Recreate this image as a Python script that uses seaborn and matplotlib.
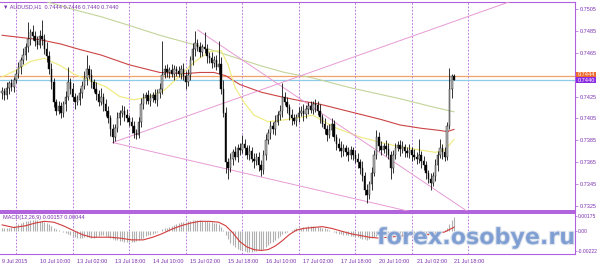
import numpy as np
import matplotlib
matplotlib.use("Agg")
import matplotlib.pyplot as plt
import matplotlib.patheffects as pe
import matplotlib.transforms as mtransforms
import seaborn as sns

# ---------------- data ----------------
first_open = 0.7428
closes = [
 0.7430,0.7426,0.7433,0.7437,0.7434,0.7440,0.7446,0.7452,0.7458,0.7463,
 0.7470,0.7478,0.7484,0.7480,0.7476,0.7472,0.7480,0.7478,0.7468,0.7462,
 0.7450,0.7438,0.7420,0.7412,0.7416,0.7410,0.7418,0.7425,0.7438,0.7432,
 0.7425,0.7420,0.7422,0.7428,0.7435,0.7442,0.7450,0.7445,0.7438,0.7432,
 0.7427,0.7420,0.7425,0.7418,0.7412,0.7405,0.7395,0.7388,0.7396,0.7405,
 0.7410,0.7412,0.7408,0.7405,0.7402,0.7398,0.7392,0.7390,0.7402,0.7418,
 0.7424,0.7426,0.7421,0.7424,0.7426,0.7422,0.7428,0.7432,0.7445,0.7450,
 0.7447,0.7449,0.7446,0.7450,0.7448,0.7446,0.7450,0.7444,0.7438,0.7445,
 0.7458,0.7468,0.7474,0.7470,0.7466,0.7470,0.7468,0.7462,0.7460,0.7456,
 0.7458,0.7452,0.7455,0.7432,0.7410,0.7365,0.7360,0.7368,0.7374,0.7370,
 0.7378,0.7376,0.7382,0.7378,0.7372,0.7375,0.7368,0.7366,0.7370,0.7362,
 0.7358,0.7372,0.7385,0.7392,0.7398,0.7395,0.7402,0.7408,0.7412,0.7425,
 0.7420,0.7415,0.7408,0.7405,0.7403,0.7406,0.7410,0.7412,0.7409,0.7414,
 0.7416,0.7413,0.7418,0.7417,0.7412,0.7406,0.7400,0.7395,0.7390,0.7394,
 0.7400,0.7388,0.7382,0.7378,0.7375,0.7378,0.7374,0.7372,0.7376,0.7372,
 0.7368,0.7365,0.7360,0.7352,0.7340,0.7335,0.7345,0.7355,0.7372,0.7388,
 0.7380,0.7376,0.7380,0.7377,0.7372,0.7360,0.7372,0.7378,0.7381,0.7377,
 0.7379,0.7375,0.7373,0.7376,0.7372,0.7370,0.7368,0.7372,0.7366,0.7362,
 0.7355,0.7350,0.7346,0.7352,0.7362,0.7372,0.7378,0.7374,0.7370,0.7398,
 0.7432,0.7444,0.7440]
# wick lengths in pips (0.0001)
up_wick = [
 4,3,5,2,4,3,4,5,3,6, 4,15,3,6,5,4,6,15,4,7, 5,6,4,3,5,4,3,5,14,4,
 5,3,4,5,4,6,13,4,5,3, 6,4,8,3,5,4,3,5,4,6, 3,5,4,6,3,4,5,3,4,6,
 4,3,5,4,3,6,4,5,31,4, 5,3,6,4,3,5,4,6,4,5, 4,6,11,4,5,3,14,5,4,6,
 4,5,21,6,8,5,4,5,3,6, 4,5,8,4,3,6,4,5,3,4, 5,4,6,3,5,4,6,4,5,12,
 4,5,3,6,4,3,5,4,6,3, 4,5,3,5,4,6,3,5,4,6, 5,4,3,5,6,4,3,5,4,3,
 4,5,3,6,4,5,3,6,4,6, 5,4,3,5,6,3,4,5,3,4, 5,3,4,6,3,5,4,14,3,5,
 4,3,5,4,6,3,8,4,5,4, 19,2,2]
low_wick = [
 5,4,3,6,4,5,3,4,6,3, 5,4,6,3,5,4,3,6,4,5, 4,6,5,4,3,5,4,6,3,5,
 4,6,3,5,4,3,6,4,5,3, 5,4,3,6,5,4,6,5,4,3, 6,4,5,3,4,6,5,4,3,5,
 4,6,3,5,4,3,6,4,5,3, 4,5,3,6,4,3,5,4,6,3, 5,4,6,3,5,4,3,6,4,5,
 4,3,6,5,4,10,10,4,6,3, 5,4,3,6,4,5,3,6,4,5, 6,4,5,3,6,4,5,3,4,6,
 3,5,4,6,3,5,4,3,6,4, 5,3,4,6,4,5,3,4,6,3, 5,4,6,3,5,4,3,6,4,5,
 4,5,6,4,5,7,4,5,3,4, 5,4,3,6,4,10,5,4,3,6, 4,5,3,4,6,3,5,4,6,4,
 5,4,6,3,4,5,3,6,4,3, 3,8,0]

# moving averages (bar index, price)
green_bars = [16, 20, 33, 42, 54, 67, 84, 97, 110, 120, 132, 148, 169, 182, 192]
green_vals = [0.7514, 0.7511, 0.7503, 0.7498, 0.7490, 0.7481, 0.7471, 0.7462, 0.7453,
              0.7447, 0.7442, 0.7433, 0.7423, 0.7416, 0.7411]
red_bars = [0, 8, 16, 25, 33, 42, 54, 67, 78, 84, 90, 95, 101, 110, 118, 127, 135, 148,
            161, 169, 178, 186, 189, 192]
red_vals = [0.7481, 0.7479, 0.7477, 0.7473, 0.7468, 0.7463, 0.7454, 0.7447, 0.7446, 0.7447,
            0.7447, 0.7444, 0.7436, 0.7429, 0.7425, 0.7421, 0.7418, 0.7411, 0.7404, 0.7399,
            0.7396, 0.7394, 0.7393, 0.7395]
yellow_bars = [0, 6, 12, 18, 25, 31, 37, 44, 50, 56, 63, 69, 76, 82, 88, 93, 96, 99, 103,
               107, 113, 121, 127, 132, 141, 152, 161, 169, 178, 184, 188, 192]
yellow_vals = [0.7443, 0.7449, 0.7457, 0.7460, 0.7453, 0.7445, 0.7440, 0.7434, 0.7425,
               0.7422, 0.7425, 0.7431, 0.7445, 0.7457, 0.7466, 0.7467, 0.7454, 0.7433,
               0.7419, 0.7408, 0.7402, 0.7404, 0.7406, 0.7408, 0.7397, 0.7388, 0.7383,
               0.7379, 0.7376, 0.7374, 0.7376, 0.7386]

# trend lines (bar, price) anchors
trend_up = ([47, 216], [0.7383, 0.7512])
trend_low = ([47, 174], [0.7383, 0.73195])
trend_high = ([83, 198], [0.7486, 0.73195])

level_orange = 0.7444
level_bid = 0.7440

# MACD (main histogram, x 1e-4) and signal line points
macd_main = [
 3,3,4,4,5,6,7,8,9,10, 11,11,12,12,12,12,11,11,10,9, 8,6,4,2,1,0,-1,-2,-3,-5,
 -6,-7,-8,-8,-8,-7,-7,-7,-8,-8, -7,-6,-5,-5,-6,-7,-8,-9,-10,-10,
 -11,-11,-12,-12,-12,-12,-12,-11,-10,-9, -8,-6,-5,-4,-3,-2,-1,0,2,3,
 4,5,6,7,8,9,10,10,10,11, 11,12,12,12,12,11,11,11,10,10,
 9,9,8,5,1,-4,-9,-13,-16,-18, -20,-21,-22,-23,-24,-24,-24,-23,-23,-22,
 -21,-20,-18,-16,-14,-12,-10,-8,-6,-3, -2,-1,0,1,2,3,4,4,5,5,
 6,6,6,5,5,5,4,3,2,1, 0,-1,-2,-3,-3,-4,-5,-5,-6,-6,
 -7,-7,-8,-9,-9,-10,-9,-8,-7,-6, -6,-5,-5,-5,-5,-6,-5,-5,-4,-4,
 -4,-4,-3,-3,-3,-4,-4,-3,-3,-4, -4,-5,-5,-4,-3,-2,-1,0,1,3,
 8,13,15.7]
signal_bars = [0, 5, 10, 14, 18, 22, 26, 30, 34, 38, 42, 46, 50, 55, 60, 64, 68, 72, 76,
               80, 84, 88, 92, 95, 98, 101, 104, 107, 110, 113, 116, 119, 122, 125, 128,
               132, 136, 140, 144, 148, 152, 156, 160, 164, 168, 172, 176, 180, 184, 188, 192]
signal_vals = [7, 4, 6, 9, 11, 10, 6, 1, -4, -7, -7, -7, -8, -10, -10, -7, -3, 2, 6,
               9, 11, 11, 10, 6, -2, -12, -18, -21, -22, -21, -17, -11, -4, 1, 3,
               4, 5, 3, 0, -3, -5, -7, -8, -7, -6, -5, -4, -4, -3, -1, 4.4]

day_sep_bars = [6, 30, 54, 78, 102, 126, 150, 174, 198]
xtick_bars = [0, 16, 32, 48, 64, 80, 96, 112, 128, 144, 160, 176, 192]
xtick_labels = ["9 Jul 2015", "10 Jul 10:00", "13 Jul 02:00", "13 Jul 18:00", "14 Jul 10:00",
                "15 Jul 02:00", "15 Jul 18:00", "16 Jul 10:00", "17 Jul 02:00", "17 Jul 18:00",
                "20 Jul 10:00", "21 Jul 02:00", "21 Jul 18:00"]
price_ticks = [0.7505, 0.7485, 0.7465, 0.7425, 0.7405, 0.7385, 0.7365, 0.7345, 0.7325]
macd_ticks = [0.00175, 0.0, -0.00222]
macd_tick_labels = ["0.00175", "0.00", "-0.00222"]

# ---------------- style ----------------
sns.set_style("white")
plt.rcParams['font.family'] = ['Liberation Sans', 'DejaVu Sans']
PURPLE = '#b060dc'
TXT = '#7b2fae'
FS = 4.0

W, H = 598, 265
fig = plt.figure(figsize=(W / 100, H / 100), dpi=100)
fig.patch.set_facecolor('white')

def rect(l, t, r, b):
    return [l / W, 1 - b / H, (r - l) / W, (b - t) / H]

ax = fig.add_axes(rect(0, 2, 575, 211))
axm = fig.add_axes(rect(0, 212.5, 575, 254), sharex=ax)

bars = np.arange(len(closes))
c = np.array(closes)
o = np.r_[first_open, c[:-1]]
hi = np.maximum(o, c) + np.array(up_wick) * 1e-4
lo = np.minimum(o, c) - np.array(low_wick) * 1e-4

# day separators
for a in (ax, axm):
    for b in day_sep_bars:
        a.axvline(b, color=PURPLE, lw=0.6, ls=(0, (2, 2)), zorder=1)

# horizontal levels
ax.axhline(level_orange, color='#f2a36b', lw=0.9, zorder=2)
ax.axhline(level_bid, color='#8ecbe8', lw=0.9, zorder=2)

# MAs
sns.lineplot(x=green_bars, y=green_vals, ax=ax, color='#c3d49a', lw=0.8, zorder=3)
sns.lineplot(x=red_bars, y=red_vals, ax=ax, color='#cc4444', lw=0.8, zorder=3)
sns.lineplot(x=yellow_bars, y=yellow_vals, ax=ax, color='#f1ec86', lw=0.9, zorder=3)

# trend lines
for xs, ys in (trend_up, trend_low, trend_high):
    ax.plot(xs, ys, color='#e79ad4', lw=0.7, zorder=3)

# candles
ax.vlines(bars, lo, hi, color='#111111', lw=0.6, zorder=4)
body_col = np.where(c >= o, '#b8b8b8', '#000000')
ax.bar(bars, np.maximum(np.abs(c - o), 0.00005), bottom=np.minimum(o, c), width=0.62,
       color=body_col, edgecolor='#111111', linewidth=0.3, zorder=5)

ax.set_xlim(-0.85, 243.3)
ax.set_ylim(0.73204, 0.75114)

# right axis
ax.yaxis.tick_right()
ax.set_yticks(price_ticks)
ax.set_yticklabels([f"{v:.4f}" for v in price_ticks])
ax.tick_params(axis='y', length=2, width=0.5, color=PURPLE, labelsize=FS, labelcolor=TXT, pad=1.2)
ax.tick_params(axis='x', length=0, labelbottom=False)
ax.set_xlabel('')
ax.set_ylabel('')

for s in ['top', 'right']:
    ax.spines[s].set_color(PURPLE)
    ax.spines[s].set_linewidth(0.8)
ax.spines['bottom'].set_color(PURPLE)
ax.spines['bottom'].set_linewidth(1.4)
ax.spines['left'].set_visible(False)

ax.text(0.006, 0.988, "\u25BC AUDUSD,H1  0.7444 0.7446 0.7440 0.7440", transform=ax.transAxes,
        va='top', ha='left', fontsize=FS, color=TXT, zorder=10)

# price labels at right
blend = mtransforms.blended_transform_factory(ax.transAxes, ax.transData)
ax.text(1.004, level_orange + 0.00008, f"{level_orange:.4f}", transform=blend, fontsize=FS,
        color='white', va='center', ha='left', zorder=10, clip_on=False,
        bbox=dict(boxstyle='square,pad=0.15', fc='#ee6a2c', ec='none'))
ax.text(1.004, level_bid, f"{level_bid:.4f}", transform=blend, fontsize=FS,
        color='white', va='center', ha='left', zorder=11, clip_on=False,
        bbox=dict(boxstyle='square,pad=0.15', fc='#8a2be2', ec='none'))

# MACD
mm = np.array(macd_main) * 1e-4
axm.vlines(bars, 0, mm, color='#b0b0b0', lw=0.8, zorder=3)
sns.lineplot(x=signal_bars, y=np.array(signal_vals) * 1e-4, ax=axm, color='#d23c3c', lw=0.8, zorder=4)
axm.set_ylim(-0.0026, 0.0021)
axm.yaxis.tick_right()
axm.set_yticks(macd_ticks)
axm.set_yticklabels(macd_tick_labels)
axm.tick_params(axis='y', length=1.5, width=0.5, color=PURPLE, labelsize=3.6, labelcolor=TXT, pad=0.6)
axm.set_xticks(xtick_bars)
axm.set_xticklabels(xtick_labels, ha='left')
axm.tick_params(axis='x', length=2.5, width=0.5, color=PURPLE, labelsize=FS, labelcolor=TXT, pad=1.0)
axm.set_xlabel('')
axm.set_ylabel('')
for s in ['bottom', 'right']:
    axm.spines[s].set_color(PURPLE)
    axm.spines[s].set_linewidth(0.8)
axm.spines['top'].set_color(PURPLE)
axm.spines['top'].set_linewidth(1.4)
axm.spines['left'].set_visible(False)
axm.text(0.006, 0.93, "MACD(12,26,9) 0.00157 0.00044", transform=axm.transAxes,
         va='top', ha='left', fontsize=FS, color=TXT, zorder=10)

# watermark
fig.text(377 / W, 1 - 244 / H, "forex.osobye.ru", fontsize=16, fontweight='bold',
         family='DejaVu Sans', color='#7d9dd2', alpha=0.92, ha='left', va='baseline', zorder=20,
         path_effects=[pe.withStroke(linewidth=1.6, foreground='#dfe5ee')])

fig.savefig("out.png", dpi=100, facecolor='white')
